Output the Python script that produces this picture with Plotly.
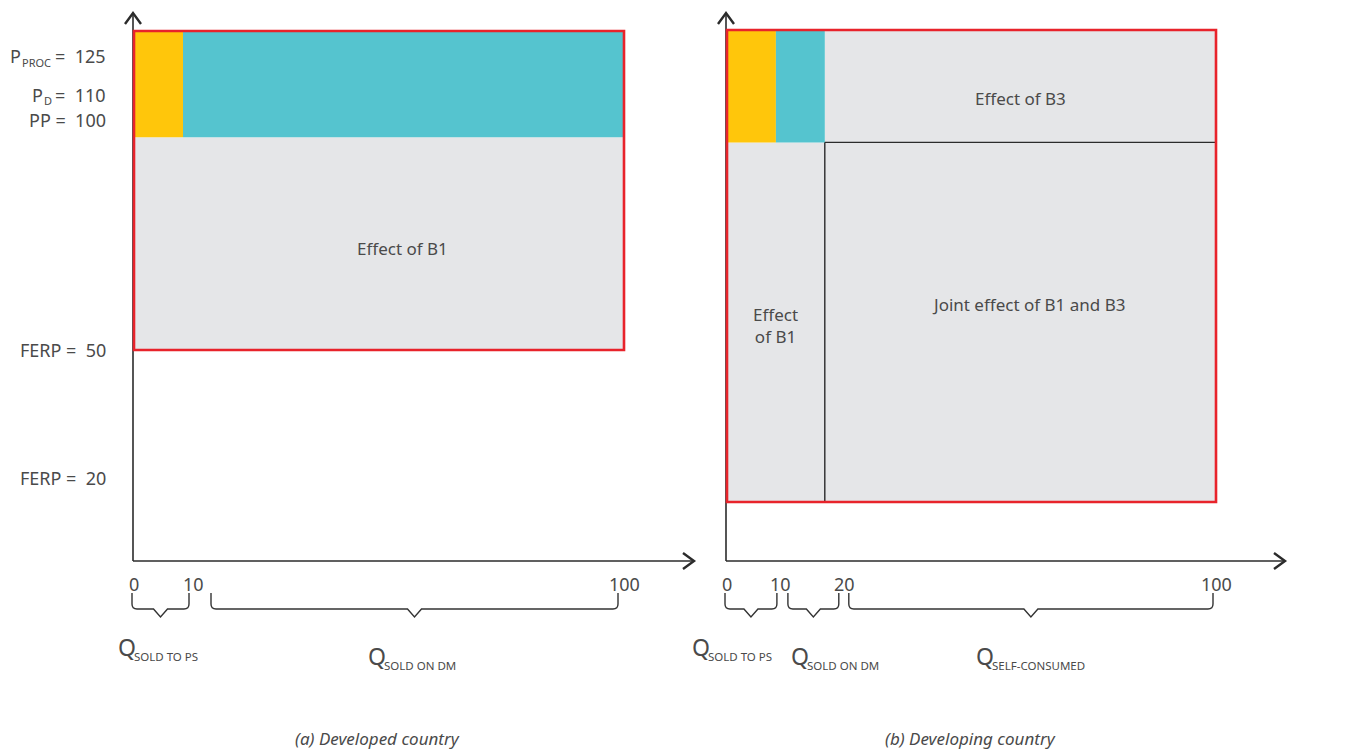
import plotly.graph_objects as go

# ---------------- data ----------------
p_proc, p_d, pp = 125, 110, 100          # processor price, domestic price, producer price
ferp_a, ferp_b = 50, 20                  # FERP in developed / developing country
price_base = ["P", "P", "PP", "FERP", "FERP"]
price_sub = ["PROC", "D", "", "", ""]
price_vals = [p_proc, p_d, pp, ferp_a, ferp_b]

q_ticks_a = [0, 10, 100]
q_spans_a = [(0, 10), (10, 100)]
q_names_a = ["SOLD TO PS", "SOLD ON DM"]

q_ticks_b = [0, 10, 20, 100]
q_spans_b = [(0, 10), (10, 20), (20, 100)]
q_names_b = ["SOLD TO PS", "SOLD ON DM", "SELF-CONSUMED"]

captions = ["(a) Developed country", "(b) Developing country"]

# ---------------- styling ----------------
W, H = 1346, 751
YEL, CYAN, GREY, RED, DARK = "#FFC60B", "#55C4CF", "#E5E6E8", "#E8232B", "#2b2b2b"
TXT = "#4a4a4a"
FONT = "Noto Sans"

def fy(py):  # pixel row -> paper fraction
    return 1 - py / H

def fx(px):
    return px / W

# axis mappings (schematic diagram)
ax_a, ax_b = 134, 727
sxa = 4.9
sxb = 4.89
sya = (350 - 31) / (p_proc - ferp_a)
syb = (502 - 30) / (p_proc - ferp_b)

fig = go.Figure()
fig.add_trace(go.Scatter(x=[0, 100], y=[0, p_proc], mode="markers", marker=dict(opacity=0),
                         hoverinfo="skip", showlegend=False, xaxis="x", yaxis="y"))
fig.add_trace(go.Scatter(x=[0, 100], y=[0, p_proc], mode="markers", marker=dict(opacity=0),
                         hoverinfo="skip", showlegend=False, xaxis="x2", yaxis="y2"))

shapes = []
def rect(xr, yr, x0, x1, y0, y1, fill, line=None, lw=0):
    shapes.append(dict(type="rect", xref=xr, yref=yr, x0=x0, x1=x1, y0=y0, y1=y1,
                       fillcolor=fill, line=dict(color=line or "rgba(0,0,0,0)", width=lw),
                       layer="below"))

def line_px(x0, y0, x1, y1, w=1.6, color=DARK):
    shapes.append(dict(type="line", xref="paper", yref="paper", x0=fx(x0), y0=fy(y0),
                       x1=fx(x1), y1=fy(y1), line=dict(color=color, width=w)))

def chevron(tipx, tipy, direction):
    L, Wd = 11, 8
    if direction == "up":
        pts = [(tipx - Wd, tipy + L), (tipx, tipy), (tipx + Wd, tipy + L)]
    else:
        pts = [(tipx - L, tipy - Wd), (tipx, tipy), (tipx - L, tipy + Wd)]
    path = "M " + " L ".join(f"{fx(a)},{fy(b)}" for a, b in pts)
    shapes.append(dict(type="path", xref="paper", yref="paper", path=path,
                       line=dict(color=DARK, width=2.4)))

# ---- panel (a)
rect("x", "y", 0, 100, ferp_a, pp, GREY)
rect("x", "y", q_ticks_a[0], q_ticks_a[1], pp, p_proc, YEL)
rect("x", "y", q_ticks_a[1], q_ticks_a[2], pp, p_proc, CYAN)
# ---- panel (b)
rect("x2", "y2", q_ticks_b[2], q_ticks_b[3], pp, p_proc, GREY)
rect("x2", "y2", q_ticks_b[0], q_ticks_b[2], ferp_b, pp, GREY)
rect("x2", "y2", q_ticks_b[2], q_ticks_b[3], ferp_b, pp, GREY, DARK, 1.4)
rect("x2", "y2", q_ticks_b[0], q_ticks_b[1], pp, p_proc, YEL)
rect("x2", "y2", q_ticks_b[1], q_ticks_b[2], pp, p_proc, CYAN)

# axes with arrows
base = 561
line_px(ax_a - 1, base, ax_a - 1, 14)
line_px(ax_a - 1, base, 692, base)
line_px(ax_b - 1, base, ax_b - 1, 14)
line_px(ax_b - 1, base, 1283, base)
chevron(ax_a - 1, 13, "up"); chevron(694, base, "right")
chevron(ax_b - 1, 13, "up"); chevron(1285, base, "right")

# red outlines (on top)
shapes.append(dict(type="rect", xref="x", yref="y", x0=0, x1=100, y0=ferp_a, y1=p_proc,
                   line=dict(color=RED, width=2.6), fillcolor="rgba(0,0,0,0)"))
shapes.append(dict(type="rect", xref="x2", yref="y2", x0=0, x1=100, y0=ferp_b, y1=p_proc,
                   line=dict(color=RED, width=2.6), fillcolor="rgba(0,0,0,0)"))

# braces (pixel nudges for the schematic layout)
def brace(xr, a, b, scale, adj):
    x0 = a + adj[0] / scale
    x1 = b + adj[1] / scale
    r = 5 / scale
    v = 7 / scale
    m = (x0 + x1) / 2
    t, hz, tip = fy(593), fy(609), fy(617)
    c = fy(604)
    path = (f"M {x0},{t} L {x0},{c} Q {x0},{hz} {x0 + r},{hz} L {m - v},{hz} L {m},{tip} "
            f"L {m + v},{hz} L {x1 - r},{hz} Q {x1},{hz} {x1},{c} L {x1},{t}")
    shapes.append(dict(type="path", xref=xr, yref="paper", path=path,
                       line=dict(color="#333333", width=1.4)))

brace_adj_a = [(-2, 6), (28, -6)]
brace_adj_b = [(-2, 1), (12, 14), (24, -3)]
for (a, b), adj in zip(q_spans_a, brace_adj_a):
    brace("x", a, b, sxa, adj)
for (a, b), adj in zip(q_spans_b, brace_adj_b):
    brace("x2", a, b, sxb, adj)

annos = []
def txt(x, y, s, xr="paper", yr="paper", size=18, xanchor="center", yanchor="middle",
        xshift=0, yshift=0, color=TXT, align="center"):
    annos.append(dict(x=x, y=y, xref=xr, yref=yr, text=s, showarrow=False,
                      font=dict(family=FONT, size=size, color=color), xanchor=xanchor,
                      yanchor=yanchor, xshift=xshift, yshift=yshift, align=align))

# y labels (panel a)
yshifts = [-25, 0, 17, 0, 0]
sub_left = {"PROC": 8, "D": 30}
for b_, sub, v, ys in zip(price_base, price_sub, price_vals, yshifts):
    if sub:
        L = sub_left[sub]
        txt(0, v, b_, xr="x", yr="y", size=18, xanchor="left", xshift=L - ax_a, yshift=ys)
        txt(0, v, sub, xr="x", yr="y", size=11, xanchor="left", xshift=L + 12 - ax_a, yshift=ys - 6)
        txt(0, v, f"=  {v}", xr="x", yr="y", size=18, xanchor="right", xshift=-26, yshift=ys)
    else:
        txt(0, v, f"{b_} =  {v}", xr="x", yr="y", size=18, xanchor="right", xshift=-26, yshift=ys)

# x tick labels
tick_shift_a = [0, 10, 0]
tick_shift_b = [0, 5, 20, 0]
for q, s in zip(q_ticks_a, tick_shift_a):
    txt(q, fy(584), str(q), xr="x", size=18, xshift=s)
for q, s in zip(q_ticks_b, tick_shift_b):
    txt(q, fy(584), str(q), xr="x2", size=18, xshift=s)

# quantity labels: big Q + small-caps subscript
def qlabel(xr, xpos, scale, left_px, qy, name):
    xs = left_px - (ax_a if xr == "x" else ax_b) - xpos * scale
    txt(xpos, fy(qy), "Q", xr=xr, size=23, xanchor="left", xshift=xs)
    txt(xpos, fy(qy + 9), name, xr=xr, size=11.5, xanchor="left", xshift=xs + 16)

q_left_a = [116, 366]
q_y_a = [647, 656]
for (a, b), n, lp, qy in zip(q_spans_a, q_names_a, q_left_a, q_y_a):
    qlabel("x", (a + b) / 2, sxa, lp, qy, n)
q_left_b = [690, 789, 974]
q_y_b = [647, 656, 656]
for (a, b), n, lp, qy in zip(q_spans_b, q_names_b, q_left_b, q_y_b):
    qlabel("x2", (a + b) / 2, sxb, lp, qy, n)

# effect labels
txt(50, (ferp_a + pp) / 2, "Effect of B1", xr="x", yr="y", size=17, xshift=23, yshift=-5)
txt((q_ticks_b[2] + 100) / 2, (pp + p_proc) / 2, "Effect of B3", xr="x2", yr="y2", size=17, yshift=-12)
txt(q_ticks_b[2] / 2, (ferp_b + pp) / 2, "Effect<br>of B1", xr="x2", yr="y2", size=17, yshift=-3)
txt((q_ticks_b[2] + 100) / 2, (ferp_b + pp) / 2, "Joint effect of B1 and B3", xr="x2", yr="y2",
    size=17, xshift=8, yshift=18)

# captions
txt(fx(377), fy(738), f"<i>{captions[0]}</i>", size=17)
txt(fx(970), fy(738), f"<i>{captions[1]}</i>", size=17)

hidden = dict(visible=False, fixedrange=True)
fig.update_layout(
    width=W, height=H, margin=dict(l=0, r=0, t=0, b=0),
    paper_bgcolor="white", plot_bgcolor="white", showlegend=False,
    xaxis=dict(domain=[0, 1], range=[-ax_a / sxa, (W - ax_a) / sxa], **hidden),
    yaxis=dict(domain=[0, 1], range=[p_proc - (H - 31) / sya, p_proc + 31 / sya], **hidden),
    xaxis2=dict(overlaying="x", range=[-ax_b / sxb, (W - ax_b) / sxb], **hidden),
    yaxis2=dict(overlaying="y", range=[p_proc - (H - 30) / syb, p_proc + 30 / syb], **hidden),
    shapes=shapes, annotations=annos,
)

fig.write_html("out.html", config={"displayModeBar": False},
               post_script="document.body.style.margin='0';")
